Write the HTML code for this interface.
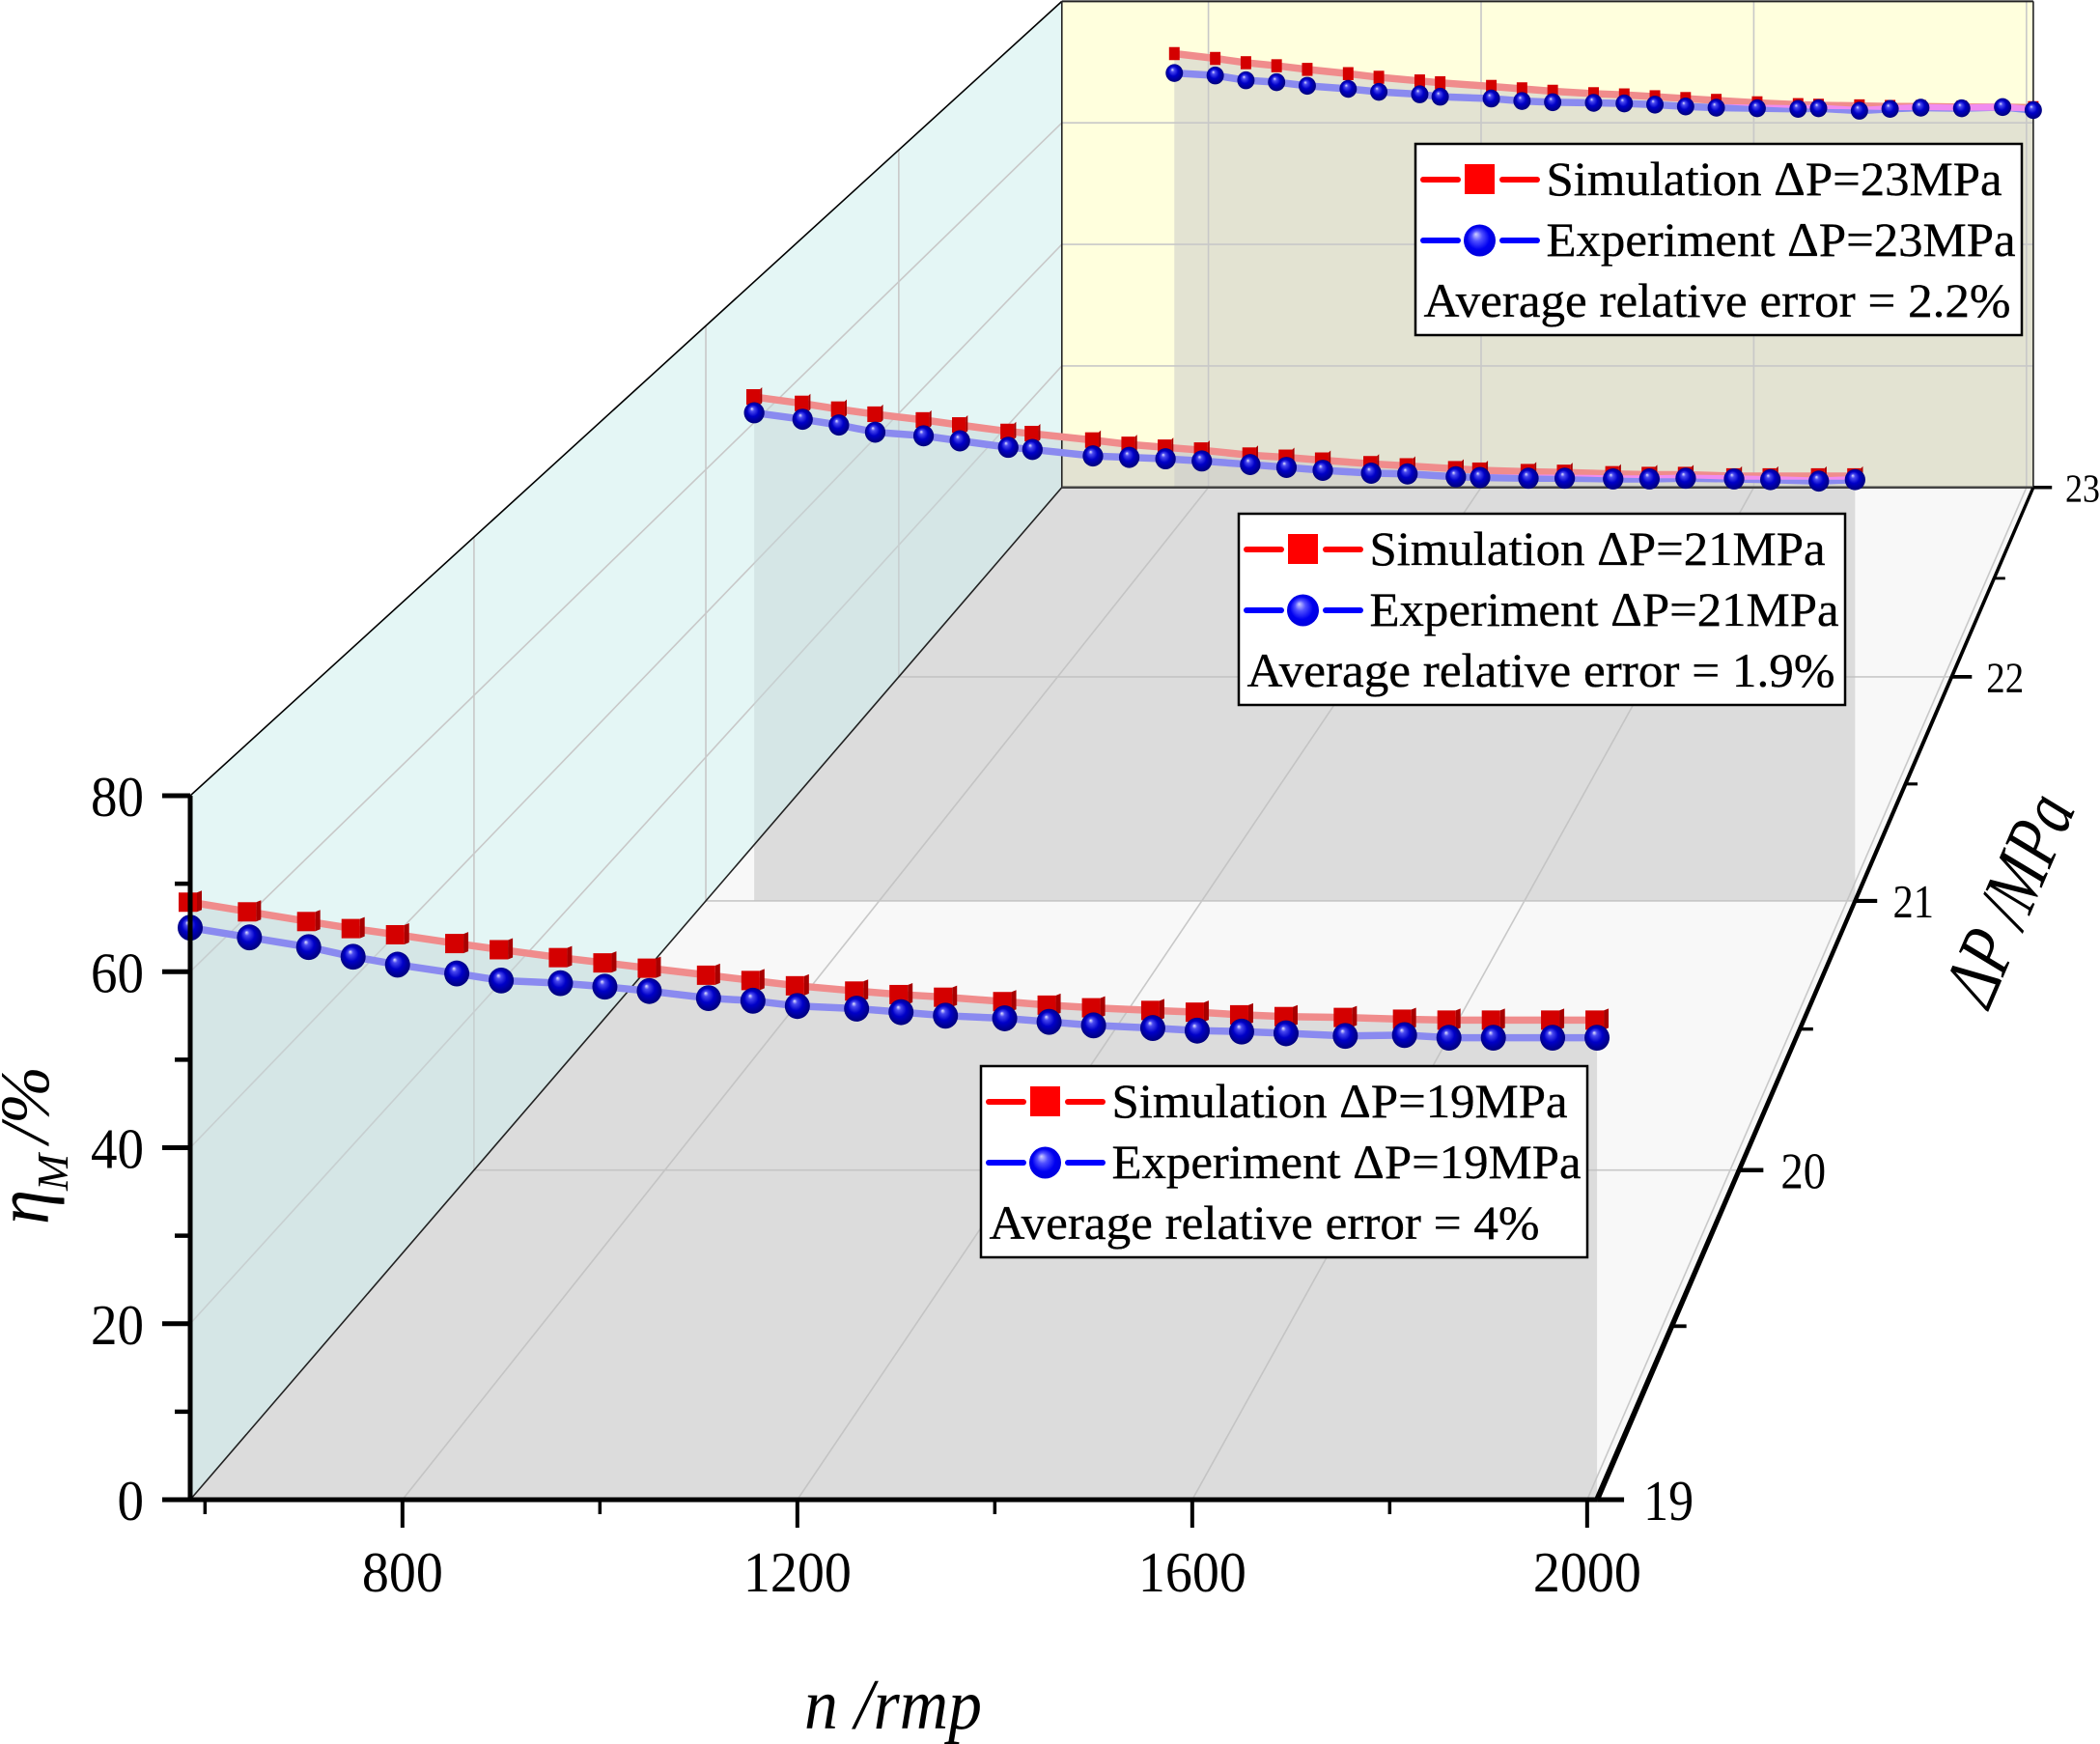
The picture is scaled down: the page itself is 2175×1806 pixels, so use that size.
<!DOCTYPE html>
<html lang="en">
<head>
<meta charset="utf-8">
<title>Mechanical efficiency versus speed at three pressure differences</title>
<style>
html,body{margin:0;padding:0;background:#fff;}
svg{display:block;}
text{font-family:"Liberation Serif",serif;fill:#000;}
.leg{font-size:50px;stroke:#000;stroke-width:0.35px;}
</style>
</head>
<body>
<svg id="chart" xmlns="http://www.w3.org/2000/svg" width="2175" height="1806" viewBox="0 0 2175 1806">
<defs>
<radialGradient id="sphereGrad" cx="0.5" cy="0.5" r="0.55" fx="0.38" fy="0.3">
<stop offset="0" stop-color="#e8e8ff"/>
<stop offset="0.18" stop-color="#4a4af0"/>
<stop offset="0.5" stop-color="#0000c8"/>
<stop offset="1" stop-color="#000070"/>
</radialGradient>
<radialGradient id="legendSphereGrad" cx="0.5" cy="0.5" r="0.55" fx="0.38" fy="0.3">
<stop offset="0" stop-color="#d0d0ff"/>
<stop offset="0.3" stop-color="#5050ff"/>
<stop offset="0.65" stop-color="#0000f0"/>
<stop offset="1" stop-color="#0000d8"/>
</radialGradient>
</defs>
<g id="walls"></g>
<g id="grid"></g>
<g id="curtains"></g>
<g id="frame"></g>
<g id="series"></g>
<g id="axes"></g>

<g transform="translate(1016,1104)">
<rect x="0" y="0" width="628" height="198" fill="#fff" stroke="#000" stroke-width="2.5"/>
<line x1="8" y1="37" x2="44" y2="37" stroke="#f00" stroke-width="6" stroke-linecap="round"/>
<rect x="51" y="21" width="31" height="31" fill="#f00"/>
<line x1="90" y1="37" x2="126" y2="37" stroke="#f00" stroke-width="6" stroke-linecap="round"/>
<text class="leg" x="135.5" y="53" textLength="472" lengthAdjust="spacingAndGlyphs">Simulation ΔP=19MPa</text>
<line x1="8" y1="100" x2="44" y2="100" stroke="#00f" stroke-width="6" stroke-linecap="round"/>
<circle cx="66.5" cy="100" r="16.5" fill="url(#legendSphereGrad)"/>
<line x1="90" y1="100" x2="126" y2="100" stroke="#00f" stroke-width="6" stroke-linecap="round"/>
<text class="leg" x="135.5" y="116" textLength="486" lengthAdjust="spacingAndGlyphs">Experiment ΔP=19MPa</text>
<text class="leg" x="8.5" y="179" textLength="570" lengthAdjust="spacingAndGlyphs">Average relative error = 4%</text>
</g>

<g transform="translate(1283,532)">
<rect x="0" y="0" width="628" height="198" fill="#fff" stroke="#000" stroke-width="2.5"/>
<line x1="8" y1="37" x2="44" y2="37" stroke="#f00" stroke-width="6" stroke-linecap="round"/>
<rect x="51" y="21" width="31" height="31" fill="#f00"/>
<line x1="90" y1="37" x2="126" y2="37" stroke="#f00" stroke-width="6" stroke-linecap="round"/>
<text class="leg" x="135.5" y="53" textLength="472" lengthAdjust="spacingAndGlyphs">Simulation ΔP=21MPa</text>
<line x1="8" y1="100" x2="44" y2="100" stroke="#00f" stroke-width="6" stroke-linecap="round"/>
<circle cx="66.5" cy="100" r="16.5" fill="url(#legendSphereGrad)"/>
<line x1="90" y1="100" x2="126" y2="100" stroke="#00f" stroke-width="6" stroke-linecap="round"/>
<text class="leg" x="135.5" y="116" textLength="486" lengthAdjust="spacingAndGlyphs">Experiment ΔP=21MPa</text>
<text class="leg" x="8.5" y="179" textLength="609" lengthAdjust="spacingAndGlyphs">Average relative error = 1.9%</text>
</g>

<g transform="translate(1466,149)">
<rect x="0" y="0" width="628" height="198" fill="#fff" stroke="#000" stroke-width="2.5"/>
<line x1="8" y1="37" x2="44" y2="37" stroke="#f00" stroke-width="6" stroke-linecap="round"/>
<rect x="51" y="21" width="31" height="31" fill="#f00"/>
<line x1="90" y1="37" x2="126" y2="37" stroke="#f00" stroke-width="6" stroke-linecap="round"/>
<text class="leg" x="135.5" y="53" textLength="472" lengthAdjust="spacingAndGlyphs">Simulation ΔP=23MPa</text>
<line x1="8" y1="100" x2="44" y2="100" stroke="#00f" stroke-width="6" stroke-linecap="round"/>
<circle cx="66.5" cy="100" r="16.5" fill="url(#legendSphereGrad)"/>
<line x1="90" y1="100" x2="126" y2="100" stroke="#00f" stroke-width="6" stroke-linecap="round"/>
<text class="leg" x="135.5" y="116" textLength="486" lengthAdjust="spacingAndGlyphs">Experiment ΔP=23MPa</text>
<text class="leg" x="8.5" y="179" textLength="608" lengthAdjust="spacingAndGlyphs">Average relative error = 2.2%</text>
</g>

<text x="833" y="1790" font-size="74" font-style="italic" textLength="184" lengthAdjust="spacingAndGlyphs">n /rmp</text>
<g>
<text transform="translate(50,1268) rotate(-90)" font-size="78" font-style="italic" textLength="36" lengthAdjust="spacingAndGlyphs">η</text>
<text transform="translate(70,1233) rotate(-90)" font-size="46" font-style="italic" textLength="38" lengthAdjust="spacingAndGlyphs">M</text>
<text transform="translate(50,1184) rotate(-90)" font-size="72" font-style="italic" textLength="80" lengthAdjust="spacingAndGlyphs">/%</text>
</g>
<text transform="translate(2060,1046) rotate(-66.7)" font-size="80" font-style="italic" textLength="228" lengthAdjust="spacingAndGlyphs">ΔP /MPa</text>

<script>
// Tick values
const nMajorTicks = [800, 1200, 1600, 2000];
const nMinorTicks = [600, 1000, 1400, 1800];
const etaMajorTicks = [0, 20, 40, 60, 80];
const etaMinorTicks = [10, 30, 50, 70];
const dpMajorTicks = [19, 20, 21, 22, 23];
const dpMinorTicks = [19.5, 20.5, 21.5, 22.5];

// Series at ΔP = 19 MPa
const speed19 = [585,645,705,750,795,855,900,960,1005,1050,1110,1155,1200,1260,1305,1350,1410,1455,1500,1560,1605,1650,1695,1755,1815,1860,1905,1965,2010];
const simulation19 = [67.9,66.8,65.7,64.9,64.2,63.2,62.5,61.6,61,60.4,59.6,59,58.4,57.8,57.4,57.1,56.6,56.2,55.9,55.6,55.4,55.1,54.9,54.8,54.6,54.5,54.5,54.5,54.5];
const experiment19 = [65,63.9,62.8,61.7,60.8,59.8,59,58.7,58.3,57.8,57,56.7,56.1,55.8,55.4,55,54.7,54.3,53.9,53.6,53.3,53.2,53,52.7,52.8,52.5,52.5,52.5,52.5];

// Series at ΔP = 21 MPa
const speed21 = [645,705,750,795,855,900,960,990,1065,1110,1155,1200,1260,1305,1350,1410,1455,1515,1545,1605,1650,1710,1755,1800,1860,1905,1965,2010];
const simulation21 = [70.1,69.2,68.4,67.7,66.9,66.2,65.3,65,64.1,63.5,63.1,62.7,62,61.7,61.3,60.8,60.5,60.1,59.9,59.7,59.6,59.4,59.3,59.3,59.1,59.1,59.1,59.1];
const experiment21 = [67.9,67,66.2,65.2,64.7,64,63.1,62.8,61.9,61.7,61.5,61.2,60.7,60.3,59.9,59.5,59.4,59,58.9,58.8,58.8,58.7,58.7,58.8,58.7,58.6,58.4,58.6];

// Series at ΔP = 23 MPa
const speed23 = [750,810,855,900,945,1005,1050,1110,1140,1215,1260,1305,1365,1410,1455,1500,1545,1605,1665,1695,1755,1800,1845,1905,1965,2010];
const simulation23 = [71.4,70.6,69.9,69.4,68.8,68.1,67.5,66.9,66.6,66,65.6,65.2,64.8,64.6,64.3,64,63.7,63.3,63,62.9,62.8,62.7,62.7,62.6,62.6,62.5];
const experiment23 = [68.2,67.8,67,66.7,66.1,65.6,65.1,64.7,64.3,64,63.6,63.4,63.3,63.2,63,62.7,62.5,62.4,62.3,62.4,62,62.3,62.5,62.4,62.6,62.1];

// Axis functions: front-plane scales plus a perspective recession toward a vanishing point
const svgNS = 'http://www.w3.org/2000/svg';
const nScale = n => 197 + (n - 585) * 1.0225;
const etaScale = e => 1553 - e * 9.1125;
const depthScale = d => 1 / (1 + 0.4482 * (d - 19) / 4);
const vanishX = 3114, vanishY = -1834;
const project = (n, e, d) => {
  const s = depthScale(d);
  return [vanishX + (nScale(n) - vanishX) * s, vanishY + (etaScale(e) - vanishY) * s];
};
const nStart = 585, nEnd = 2010, etaTop = 80, dpFront = 19, dpBack = 23;
const pts = list => list.map(p => p[0].toFixed(2) + ',' + p[1].toFixed(2)).join(' ');
const make = (parent, tag, attrs) => {
  const node = document.createElementNS(svgNS, tag);
  Object.keys(attrs).forEach(k => node.setAttribute(k, attrs[k]));
  parent.appendChild(node);
  return node;
};

const walls = document.getElementById('walls');
const grid = document.getElementById('grid');
const curtains = document.getElementById('curtains');
const frame = document.getElementById('frame');
const seriesGroup = document.getElementById('series');
const axes = document.getElementById('axes');
const defs = document.querySelector('defs');

const leftWallPts = [project(nStart,0,dpFront), project(nStart,etaTop,dpFront), project(nStart,etaTop,dpBack), project(nStart,0,dpBack)];
const backWallPts = [project(nStart,0,dpBack), project(nStart,etaTop,dpBack), project(nEnd,etaTop,dpBack), project(nEnd,0,dpBack)];
const floorPts = [project(nStart,0,dpFront), project(nEnd,0,dpFront), project(nEnd,0,dpBack), project(nStart,0,dpBack)];

const floorWall = make(walls, 'polygon', {points: pts(floorPts), fill: '#f8f8f8'});


const leftWall = make(walls, 'polygon', {points: pts(leftWallPts), fill: '#e4f6f5'});


const backWall = make(walls, 'polygon', {points: pts(backWallPts), fill: '#ffffdd'});



// clip regions for the per-surface drop fills
[['clipLeft', leftWallPts], ['clipBack', backWallPts], ['clipFloor', floorPts]].forEach(item => {
  const c = make(defs, 'clipPath', {id: item[0]});
  make(c, 'polygon', {points: pts(item[1])});
});

const gridStroke = {stroke: '#c8c8c8', 'stroke-width': 1.6, fill: 'none'};
const gridLine = (a, b) => make(grid, 'line', Object.assign({x1: a[0], y1: a[1], x2: b[0], y2: b[1]}, gridStroke));

// floor and back wall lines for speed ticks
nMajorTicks.forEach(n => {
  const floorLine = gridLine(project(n,0,dpFront), project(n,0,dpBack));
  
  
  const backLine = gridLine(project(n,0,dpBack), project(n,etaTop,dpBack));
  
  
});
// left wall and back wall lines for efficiency ticks
etaMajorTicks.filter(e => e > 0 && e < etaTop).forEach(e => {
  const wallLine = gridLine(project(nStart,e,dpFront), project(nStart,e,dpBack));
  
  
  const backLine = gridLine(project(nStart,e,dpBack), project(nEnd,e,dpBack));
  
  
});
// floor and left wall lines for pressure ticks
dpMajorTicks.filter(d => d > dpFront && d < dpBack).forEach(d => {
  const floorLine = gridLine(project(nStart,0,d), project(nEnd,0,d));
  
  
  const wallLine = gridLine(project(nStart,0,d), project(nStart,etaTop,d));
  
  
});

// drop fills under the simulation curves
const drawCurtain = (speed, sim, d) => {
  const top = speed.map((n, i) => project(n, sim[i], d));
  const shape = top.concat([project(speed[speed.length-1],0,d), project(speed[0],0,d)]);
  const surfaces = [['clipLeft', 'rgb(198,214,215)'], ['clipBack', 'rgb(199,199,199)'], ['clipFloor', 'rgb(192,192,192)']];
  surfaces.forEach(sf => {
    const poly = make(curtains, 'polygon', {points: pts(shape), fill: sf[1], 'fill-opacity': 0.5, 'clip-path': 'url(#' + sf[0] + ')'});
    
    
  });
};
drawCurtain(speed23, simulation23, 23);
drawCurtain(speed21, simulation21, 21);
drawCurtain(speed19, simulation19, 19);

// wall edges
const edge = (a, b, color, w) => make(frame, 'line', {x1: a[0], y1: a[1], x2: b[0], y2: b[1], stroke: color, 'stroke-width': w});
const e1 = edge(project(nStart,etaTop,dpFront), project(nStart,etaTop,dpBack), '#000', 1.6);


const e2 = edge(project(nStart,0,dpFront), project(nStart,0,dpBack), '#222', 1.6);


const e3 = edge(project(nStart,etaTop,dpBack), project(nEnd,etaTop,dpBack), '#222', 2);


const e4 = edge(project(nStart,0,dpBack), project(nStart,etaTop,dpBack), '#222', 1.6);


const e5 = edge(project(nEnd,0,dpBack), project(nEnd,etaTop,dpBack), '#222', 1.6);


const e6 = edge(project(nStart,0,dpBack), project(nEnd,0,dpBack), '#444', 2.5);



// series drawing
const drawSeries = (speed, sim, exp, d) => {
  const s = depthScale(d);
  const simPts = speed.map((n, i) => project(n, sim[i], d));
  const expPts = speed.map((n, i) => project(n, exp[i], d));
  const lineBand = make(seriesGroup, 'g', {style: 'isolation:isolate'});
  
  
  const simLine = make(lineBand, 'polyline', {points: pts(simPts), fill: 'none', stroke: '#f08c8c', 'stroke-width': 7.5});
  
  
  const expLine = make(lineBand, 'polyline', {points: pts(expPts), fill: 'none', stroke: '#8a8af0', 'stroke-width': 7.5, style: 'mix-blend-mode:lighten'});
  
  
  const w = 19 - 26 * (1 - s);
  const h = 20 - 21 * (1 - s);
  const side = 5 * (s - 0.6905) / 0.3095;
  simPts.forEach(p => {
    const left = p[0] - (w + side) / 2;
    if (side > 0.5) {
      const sideFace = make(seriesGroup, 'polygon', {points: pts([[left+w,p[1]-h/2],[left+w+side,p[1]-h/2-2],[left+w+side,p[1]+h/2-2],[left+w,p[1]+h/2]]), fill: '#a80000'});
      
      
    }
    const sq = make(seriesGroup, 'rect', {x: left, y: p[1]-h/2, width: w, height: h, fill: '#d40000'});
    
    
  });
  expPts.forEach(p => {
    const dot = make(seriesGroup, 'ellipse', {cx: p[0], cy: p[1], rx: 13 * s, ry: 13.4 * s, fill: 'url(#sphereGrad)'});
    
    
  });
};
drawSeries(speed23, simulation23, experiment23, 23);
drawSeries(speed21, simulation21, experiment21, 21);
drawSeries(speed19, simulation19, experiment19, 19);

// axes
const origin = project(nStart,0,dpFront);
const cornerFront = project(nEnd,0,dpFront);
const cornerBack = project(nEnd,0,dpBack);
const etaAxis = make(axes, 'line', {x1: origin[0], y1: etaScale(etaTop), x2: origin[0], y2: etaScale(0), stroke: '#000', 'stroke-width': 5});


const speedAxis = make(axes, 'line', {x1: origin[0] - 2, y1: origin[1], x2: cornerFront[0], y2: cornerFront[1], stroke: '#000', 'stroke-width': 5});


const dpAxis = make(axes, 'polygon', {points: pts([[cornerFront[0]-3.2,cornerFront[1]],[cornerFront[0]+3.2,cornerFront[1]],[cornerBack[0]+1.8,cornerBack[1]],[cornerBack[0]-1.8,cornerBack[1]]]), fill: '#000'});



const addTick = (x1, y1, x2, y2, w, name) => {
  const t = make(axes, 'line', {x1: x1, y1: y1, x2: x2, y2: y2, stroke: '#000', 'stroke-width': w});
  
  
  return t;
};
const addLabel = (txt, x, y, size, len, anchor, name) => {
  const t = make(axes, 'text', {x: x, y: y, 'font-size': size, textLength: len, lengthAdjust: 'spacingAndGlyphs', 'text-anchor': anchor});
  t.textContent = txt;
  
  
  return t;
};

etaMajorTicks.forEach(e => {
  addTick(168, etaScale(e), origin[0], etaScale(e), 5, 'y-tick-major');
  addLabel(String(e), 149, etaScale(e) + 21, 59, String(e).length * 27.5, 'end', 'y-tick-label');
});
etaMinorTicks.forEach(e => addTick(181, etaScale(e), origin[0], etaScale(e), 4.5, 'y-tick-minor'));

nMajorTicks.forEach(n => {
  addTick(nScale(n), 1553, nScale(n), 1582, 4, 'x-tick-major');
  addLabel(String(n), nScale(n), 1648, 59, String(n).length * 28, 'middle', 'x-tick-label');
});
nMinorTicks.forEach(n => addTick(nScale(n), 1553, nScale(n), 1568, 3.5, 'x-tick-minor'));

dpMajorTicks.forEach(d => {
  const p = project(nEnd, 0, d);
  const s = depthScale(d);
  addTick(p[0], p[1], p[0] + 28 * s, p[1], 5 * s, 'z-tick-major');
  addLabel(String(d), p[0] + 48 * s, p[1] + 21 * s, 59 * s, 52 * s, 'start', 'z-tick-label');
});
dpMinorTicks.forEach(d => {
  const p = project(nEnd, 0, d);
  const s = depthScale(d);
  addTick(p[0], p[1], p[0] + 16 * s, p[1], 4 * s, 'z-tick-minor');
});
</script>
</svg>
</body>
</html>
